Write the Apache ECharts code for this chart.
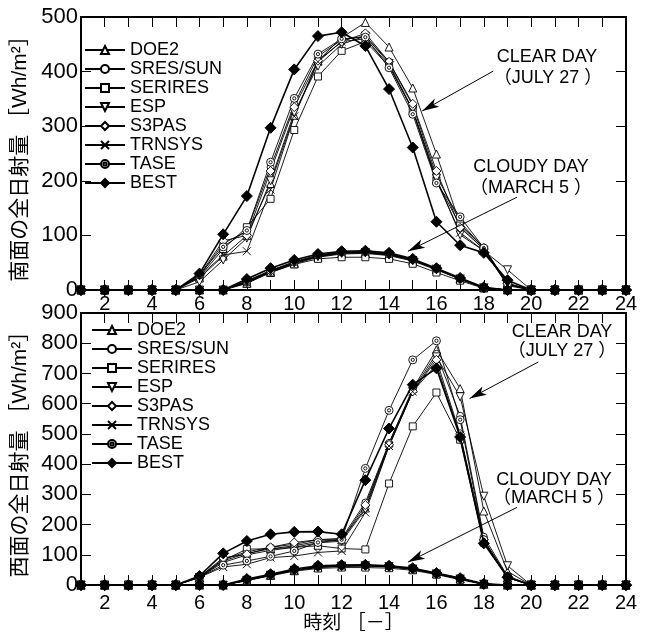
<!DOCTYPE html>
<html>
<head>
<meta charset="utf-8">
<script src="https://cdn.jsdelivr.net/npm/echarts@6/dist/echarts.min.js"></script>
<style>
  html, body { margin: 0; padding: 0; background: #fff; }
  #chart { width: 651px; height: 634px; }
</style>
</head>
<body>
<div id="chart"></div>
<script>
// 時刻
const hours = [1, 2, 3, 4, 5, 6, 7, 8, 9, 10, 11, 12, 13, 14, 15, 16, 17, 18, 19, 20, 21, 22, 23, 24]
const models = ['DOE2', 'SRES/SUN', 'SERIRES', 'ESP', 'S3PAS', 'TRNSYS', 'TASE', 'BEST']

// 南面 晴天日 (JULY 27)
const southClearDOE2 = [0, 0, 0, 0, 0, 22, 62, 100, 195, 320, 420, 462, 490, 445, 370, 249, 120, 78, 12, 0, 0, 0, 0, 0]
const southClearSRES = [0, 0, 0, 0, 0, 25, 85, 108, 225, 340, 428, 458, 465, 418, 338, 210, 125, 76, 10, 0, 0, 0, 0, 0]
const southClearSERIRES = [0, 0, 0, 0, 0, 24, 75, 115, 167, 293, 391, 438, 455, 410, 330, 200, 118, 74, 8, 0, 0, 0, 0, 0]
const southClearESP = [0, 0, 0, 0, 0, 15, 55, 95, 200, 325, 410, 450, 465, 415, 330, 205, 101, 72, 37, 0, 0, 0, 0, 0]
const southClearS3PAS = [0, 0, 0, 0, 0, 27, 90, 100, 218, 335, 420, 455, 470, 418, 341, 218, 114, 75, 12, 0, 0, 0, 0, 0]
const southClearTRNSYS = [0, 0, 0, 0, 0, 25, 64, 71, 184, 318, 418, 455, 460, 412, 328, 200, 105, 72, 10, 0, 0, 0, 0, 0]
const southClearTASE = [0, 0, 0, 0, 0, 28, 79, 109, 234, 351, 432, 460, 463, 407, 322, 196, 134, 77, 12, 0, 0, 0, 0, 0]
const southClearBEST = [0, 0, 0, 0, 0, 30, 102, 172, 297, 404, 465, 472, 447, 368, 261, 125, 82, 68, 18, 0, 0, 0, 0, 0]

// 南面 曇天日 (MARCH 5)
const southCloudyDOE2 = [0, 0, 0, 0, 0, 0, 0, 12, 32, 48, 60, 66, 67, 63, 53, 37, 20, 4, 0, 0, 0, 0, 0, 0]
const southCloudySRES = [0, 0, 0, 0, 0, 0, 0, 15, 35, 50, 62, 68, 69, 65, 55, 38, 20, 4, 0, 0, 0, 0, 0, 0]
const southCloudySERIRES = [0, 0, 0, 0, 0, 0, 0, 14, 32, 47, 57, 60, 60, 57, 48, 32, 17, 3, 0, 0, 0, 0, 0, 0]
const southCloudyESP = [0, 0, 0, 0, 0, 0, 0, 13, 33, 49, 61, 67, 68, 64, 54, 38, 20, 4, 0, 0, 0, 0, 0, 0]
const southCloudyS3PAS = [0, 0, 0, 0, 0, 0, 0, 16, 35, 51, 63, 69, 70, 66, 56, 39, 21, 4, 0, 0, 0, 0, 0, 0]
const southCloudyTRNSYS = [0, 0, 0, 0, 0, 0, 0, 14, 34, 50, 62, 68, 69, 65, 55, 39, 21, 4, 0, 0, 0, 0, 0, 0]
const southCloudyTASE = [0, 0, 0, 0, 0, 0, 0, 17, 36, 52, 64, 70, 70, 66, 56, 39, 21, 4, 0, 0, 0, 0, 0, 0]
const southCloudyBEST = [0, 0, 0, 0, 0, 0, 0, 20, 40, 55, 66, 71, 72, 68, 57, 40, 22, 5, 0, 0, 0, 0, 0, 0]

// 西面 晴天日 (JULY 27)
const westClearDOE2 = [0, 0, 0, 0, 0, 25, 80, 105, 120, 130, 145, 150, 255, 470, 650, 778, 650, 245, 45, 0, 0, 0, 0, 0]
const westClearSRES = [0, 0, 0, 0, 0, 28, 85, 110, 125, 135, 150, 155, 273, 470, 645, 765, 560, 160, 30, 0, 0, 0, 0, 0]
const westClearSERIRES = [0, 0, 0, 0, 0, 27, 82, 119, 120, 125, 130, 121, 118, 336, 525, 637, 481, 140, 25, 0, 0, 0, 0, 0]
const westClearESP = [0, 0, 0, 0, 0, 25, 75, 100, 115, 125, 140, 145, 250, 460, 640, 755, 623, 294, 64, 0, 0, 0, 0, 0]
const westClearS3PAS = [0, 0, 0, 0, 0, 27, 90, 102, 125, 141, 150, 150, 265, 464, 641, 745, 500, 150, 25, 0, 0, 0, 0, 0]
const westClearTRNSYS = [0, 0, 0, 0, 0, 26, 60, 69, 91, 96, 108, 113, 240, 460, 640, 730, 495, 145, 25, 0, 0, 0, 0, 0]
const westClearTASE = [0, 0, 0, 0, 0, 26, 66, 80, 95, 113, 141, 150, 386, 578, 745, 808, 547, 150, 28, 0, 0, 0, 0, 0]
const westClearBEST = [0, 0, 0, 0, 0, 30, 105, 146, 168, 176, 177, 168, 347, 518, 663, 717, 490, 138, 26, 0, 0, 0, 0, 0]

// 西面 曇天日 (MARCH 5)
const westCloudyDOE2 = [0, 0, 0, 0, 0, 0, 0, 15, 32, 48, 58, 62, 63, 60, 52, 37, 20, 3, 0, 0, 0, 0, 0, 0]
const westCloudySRES = [0, 0, 0, 0, 0, 0, 0, 17, 34, 50, 61, 64, 65, 62, 54, 38, 21, 3, 0, 0, 0, 0, 0, 0]
const westCloudySERIRES = [0, 0, 0, 0, 0, 0, 0, 15, 31, 46, 55, 58, 58, 56, 49, 35, 18, 2, 0, 0, 0, 0, 0, 0]
const westCloudyESP = [0, 0, 0, 0, 0, 0, 0, 16, 33, 49, 59, 63, 64, 61, 53, 37, 20, 3, 0, 0, 0, 0, 0, 0]
const westCloudyS3PAS = [0, 0, 0, 0, 0, 0, 0, 18, 35, 51, 62, 65, 66, 63, 55, 39, 22, 4, 0, 0, 0, 0, 0, 0]
const westCloudyTRNSYS = [0, 0, 0, 0, 0, 0, 0, 16, 33, 49, 60, 63, 64, 61, 53, 38, 21, 3, 0, 0, 0, 0, 0, 0]
const westCloudyTASE = [0, 0, 0, 0, 0, 0, 0, 18, 35, 51, 62, 65, 66, 63, 55, 39, 22, 4, 0, 0, 0, 0, 0, 0]
const westCloudyBEST = [0, 0, 0, 0, 0, 0, 0, 20, 36, 53, 64, 66, 67, 64, 56, 40, 23, 4, 0, 0, 0, 0, 0, 0]

const southClear = [southClearDOE2, southClearSRES, southClearSERIRES, southClearESP, southClearS3PAS, southClearTRNSYS, southClearTASE, southClearBEST]
const southCloudy = [southCloudyDOE2, southCloudySRES, southCloudySERIRES, southCloudyESP, southCloudyS3PAS, southCloudyTRNSYS, southCloudyTASE, southCloudyBEST]
const westClear = [westClearDOE2, westClearSRES, westClearSERIRES, westClearESP, westClearS3PAS, westClearTRNSYS, westClearTASE, westClearBEST]
const westCloudy = [westCloudyDOE2, westCloudySRES, westCloudySERIRES, westCloudyESP, westCloudyS3PAS, westCloudyTRNSYS, westCloudyTASE, westCloudyBEST]

// 矢印 (始点, 終点) データ座標
const southClearArrow = [[18.4, 401], [15.4, 328]]
const southCloudyArrow = [[19.4, 170], [14.8, 71]]
const westClearArrow = [[20.3, 738], [17.4, 617]]
const westCloudyArrow = [[19.4, 257], [14.8, 76]]

const FONT = '"Liberation Sans", Arial, "Noto Sans CJK JP"'

// マーカーの形
const symbols = {
  'DOE2': { symbol: 'triangle', size: 8 },
  'SRES/SUN': { symbol: 'circle', size: 7 },
  'SERIRES': { symbol: 'rect', size: 7 },
  'ESP': { symbol: 'path://M0,0L10,0L5,9Z', size: 8 },
  'S3PAS': { symbol: 'diamond', size: 9 },
  'TRNSYS': { symbol: 'path://M0,0L10,10M10,0L0,10', size: 8 },
  'TASE': { symbol: 'path://M5,0A5,5,0,1,1,5,10A5,5,0,1,1,5,0ZM5,3A2,2,0,1,1,5,7A2,2,0,1,1,5,3Z', size: 8 },
  'BEST': { symbol: 'diamond', size: 11 }
}

function makeSeries(name, values, axisIdx, arrow) {
  const st = symbols[name]
  const best = name === 'BEST'
  const s = {
    name: name,
    type: 'line',
    xAxisIndex: axisIdx,
    yAxisIndex: axisIdx,
    data: hours.map((h, i) => [h, values[i]]),
    symbol: st.symbol,
    symbolSize: st.size,
    showSymbol: true,
    lineStyle: { color: '#000', width: best ? 1.6 : 0.9 },
    itemStyle: { color: best ? '#000' : '#fff', borderColor: '#000', borderWidth: best ? 1 : 0.9 },
    emphasis: { disabled: true },
    z: best ? 3 : 2
  }
  if (arrow) {
    s.markLine = {
      silent: true,
      animation: false,
      symbol: ['none', 'arrow'],
      label: { show: false },
      lineStyle: { color: '#000', width: 1, type: 'solid' },
      itemStyle: { color: '#000' },
      data: arrow.map(a => [{ coord: a[0] }, { coord: a[1], symbolSize: [7, 17] }])
    }
  }
  return s
}

const series = []
models.forEach((m, i) => {
  series.push(makeSeries(m, southCloudy[i], 0, m === 'BEST' ? [southClearArrow, southCloudyArrow] : null))
  series.push(makeSeries(m, southClear[i], 0, null))
  series.push(makeSeries(m, westCloudy[i], 2, m === 'BEST' ? [westClearArrow, westCloudyArrow] : null))
  series.push(makeSeries(m, westClear[i], 2, null))
})
// 上側・右側の軸は目盛りだけ
function frameX(grid, pos, labels) {
  return {
    type: 'value', gridIndex: grid, position: pos, min: 1, max: 24, interval: 1,
    axisLine: { show: true, onZero: false, lineStyle: { color: '#000', width: 2 } },
    axisTick: { show: true, inside: true, length: 10, lineStyle: { color: '#000', width: 1 } },
    axisLabel: {
      show: labels, color: '#000', fontSize: 20, fontFamily: FONT, margin: grid === 0 ? 4 : 8,
      formatter: v => (v % 2 === 0 ? String(v) : '')
    },
    splitLine: { show: false }
  }
}
function frameY(grid, pos, max, labels, name) {
  return {
    type: 'value', gridIndex: grid, position: pos, min: 0, max: max, interval: 100,
    axisLine: { show: true, onZero: false, lineStyle: { color: '#000', width: 2 } },
    axisTick: { show: true, inside: true, length: 10, lineStyle: { color: '#000', width: 1 } },
    axisLabel: { show: labels, color: '#000', fontSize: 22, fontFamily: FONT, margin: 3 },
    splitLine: { show: false },
    name: name,
    nameLocation: 'middle',
    nameRotate: 90,
    nameGap: 47,
    nameTextStyle: { color: '#000', fontSize: 21, fontFamily: FONT }
  }
}

const xAxes = [frameX(0, 'bottom', true), frameX(0, 'top', false), frameX(1, 'bottom', true), frameX(1, 'top', false)]
xAxes[2].name = '時刻 ［－］'
xAxes[2].nameLocation = 'middle'
xAxes[2].nameGap = 28
xAxes[2].nameTextStyle = { color: '#000', fontSize: 19, fontFamily: FONT }

const yAxes = [
  frameY(0, 'left', 500, true, '南面の全日射量 ［Wh/m²］'),
  frameY(0, 'right', 500, false, ''),
  frameY(1, 'left', 900, true, '西面の全日射量 ［Wh/m²］'),
  frameY(1, 'right', 900, false, '')
]

function makeLegend(left, top) {
  return {
    data: models,
    orient: 'vertical',
    left: left,
    top: top,
    padding: 0,
    itemGap: 1,
    itemWidth: 40,
    itemHeight: 10,
    selectedMode: false,
    textStyle: { color: '#000', fontSize: 18, lineHeight: 18, fontFamily: FONT }
  }
}

function note(x, y, text) {
  return {
    type: 'text', x: x, y: y,
    style: { text: text, fill: '#000', font: '18px ' + FONT, textAlign: 'center', textVerticalAlign: 'middle' }
  }
}

const chart = echarts.init(document.getElementById('chart'))
chart.setOption({
  animation: false,
  backgroundColor: '#fff',
  grid: [
    { left: 81, top: 17, width: 545, height: 273 },
    { left: 81, top: 313, width: 545, height: 273 }
  ],
  xAxis: xAxes,
  yAxis: yAxes,
  legend: [makeLegend(84, 41), makeLegend(91, 321)],
  graphic: [
    note(547, 57, 'CLEAR DAY'),
    note(548, 78, '（JULY 27 ）'),
    note(531, 167, 'CLOUDY DAY'),
    note(531, 188, '（MARCH 5 ）'),
    note(562, 332, 'CLEAR DAY'),
    note(562, 351, '（JULY 27 ）'),
    note(554, 480, 'CLOUDY DAY'),
    note(554, 498, '（MARCH 5 ）')
  ],
  series: series
})
</script>
</body>
</html>
